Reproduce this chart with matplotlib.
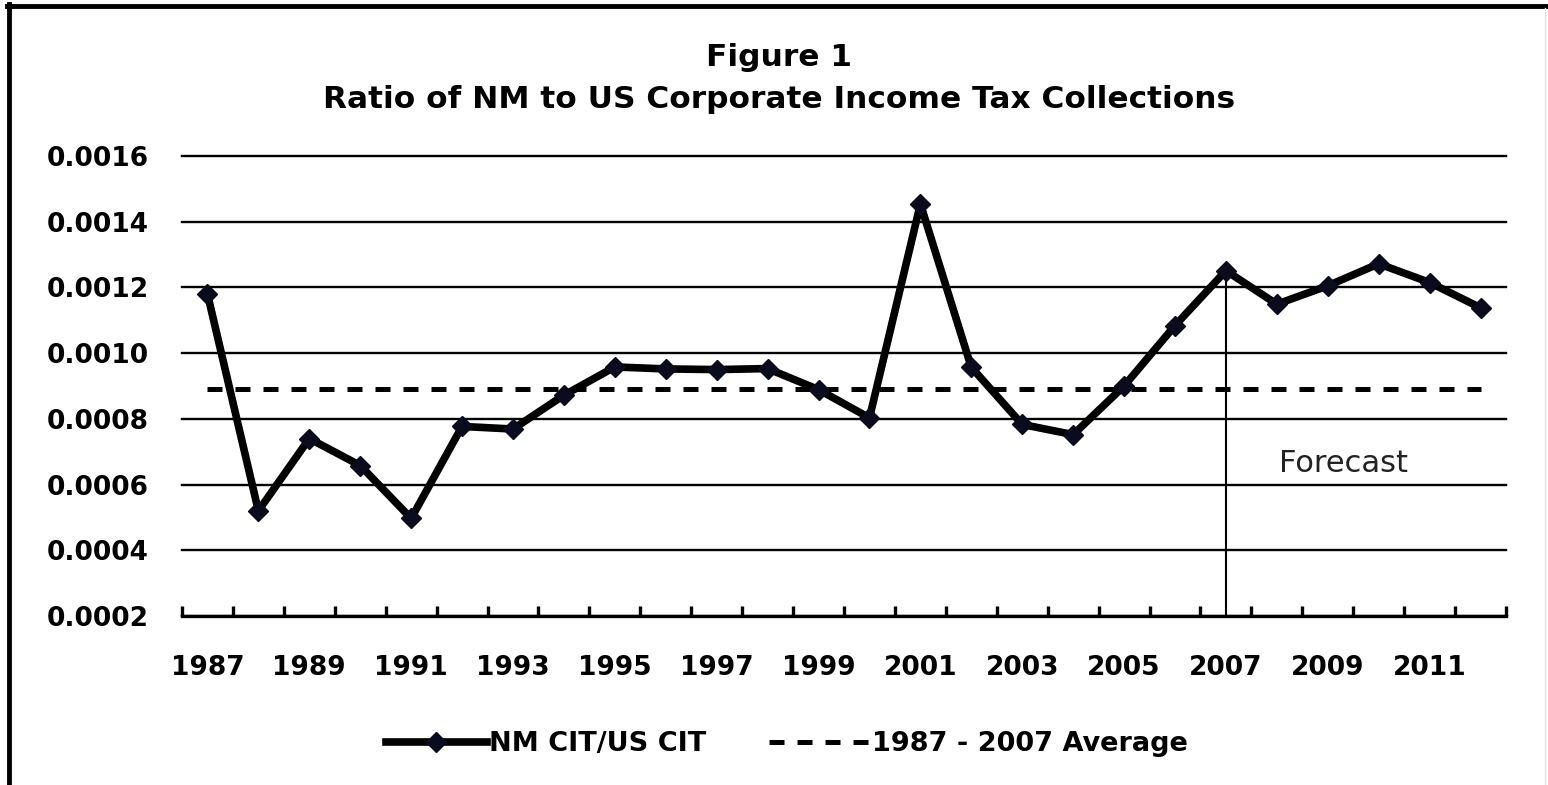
import numpy as np
import matplotlib
matplotlib.use("Agg")
import matplotlib.pyplot as plt
from matplotlib.lines import Line2D
from matplotlib.ticker import FixedLocator, FuncFormatter

# ── Data ─────────────────────────────────────────────────────────────────────
years = list(range(1987, 2013))
nm_us_ratio = [0.00118, 0.00052, 0.00074, 0.000658, 0.000497, 0.000777,
               0.000769, 0.000872, 0.000958, 0.000952, 0.00095, 0.000953,
               0.000889, 0.000803, 0.001454, 0.000957, 0.000783, 0.000752,
               0.0009, 0.001084, 0.001251, 0.001149, 0.001205, 0.001272,
               0.001215, 0.001138]
avg_1987_2007 = 0.00089
forecast_start = 2007
yticks = [0.0002, 0.0004, 0.0006, 0.0008, 0.0010, 0.0012, 0.0014, 0.0016]

plt.rcParams.update({"font.family": "DejaVu Sans"})

fig = plt.figure(figsize=(15.48, 7.85), dpi=100)
ax = fig.add_axes([182 / 1548, 169 / 785, 1324 / 1548, 460 / 785])

x = np.arange(len(years))

# NM / US series
ax.plot(x, nm_us_ratio, color="black", lw=5.5, marker="D", ms=10.5,
        mfc="#0b0b1e", mec="#0b0b1e", solid_joinstyle="round",
        label="NM CIT/US CIT", zorder=4)

# long-run average
ax.plot([x[0], x[-1]], [avg_1987_2007, avg_1987_2007], color="black", lw=3.6,
        dashes=(3.0, 2.6), label="1987 - 2007 Average", zorder=3)

# forecast divider
i_fc = years.index(forecast_start)
ax.vlines(i_fc, yticks[0], nm_us_ratio[i_fc], color="black", lw=1.5, zorder=2)
ax.text(22.3, 0.000664, "Forecast", fontsize=22, ha="center", va="center",
        color="#222")

# axes styling — Excel-ish category axis
ax.set_xlim(-0.5, len(years) - 0.5)
ax.set_ylim(yticks[0], yticks[-1])
ax.set_yticks(yticks)
ax.yaxis.set_major_formatter(FuncFormatter(lambda v, _: f"{v:.4f}"))
ax.set_xticks(x[::2])
ax.set_xticklabels([str(y) for y in years[::2]])
ax.xaxis.set_minor_locator(FixedLocator(np.arange(-0.5, len(years), 1.0)))

ax.grid(axis="y", color="black", lw=1.7)
for gl in ax.get_ygridlines():
    gl.set_clip_on(False)
ax.set_axisbelow(True)
for s in ("top", "right", "left"):
    ax.spines[s].set_visible(False)
ax.spines["bottom"].set_linewidth(2.4)
ax.spines["bottom"].set_zorder(5)

ax.tick_params(axis="y", length=0, pad=24, labelsize=19)
ax.tick_params(axis="x", which="major", length=0, pad=28, labelsize=19)
ax.tick_params(axis="x", which="minor", direction="in", length=7, width=2.4)
for lab in ax.get_xticklabels() + ax.get_yticklabels():
    lab.set_fontweight("bold")

# titles
fig.text(779 / 1548, 1 - 57 / 785, "Figure 1", ha="center", va="center",
         fontsize=22.5, fontweight="bold")
fig.text(779 / 1548, 1 - 100 / 785,
         "Ratio of NM to US Corporate Income Tax Collections",
         ha="center", va="center", fontsize=22.5, fontweight="bold")

# legend below
leg = fig.legend(loc="center", bbox_to_anchor=(787 / 1548, 41 / 785), ncol=2,
                 frameon=False, handlelength=3.7, handletextpad=0.1,
                 columnspacing=2.3, prop={"size": 19.5, "weight": "bold"})

# outer frame (top and left only, as in the source)
fig.add_artist(Line2D([7 / 1548, 1], [1 - 6 / 785, 1 - 6 / 785],
                      transform=fig.transFigure, color="black", lw=3.5))
fig.add_artist(Line2D([9 / 1548, 9 / 1548], [0, 1 - 4 / 785],
                      transform=fig.transFigure, color="black", lw=3.5))
fig.add_artist(Line2D([1545 / 1548, 1545 / 1548], [0, 1 - 8 / 785],
                      transform=fig.transFigure, color="#e4e4e4", lw=1))

fig.savefig("out.png", dpi=100)
plt.close(fig)
